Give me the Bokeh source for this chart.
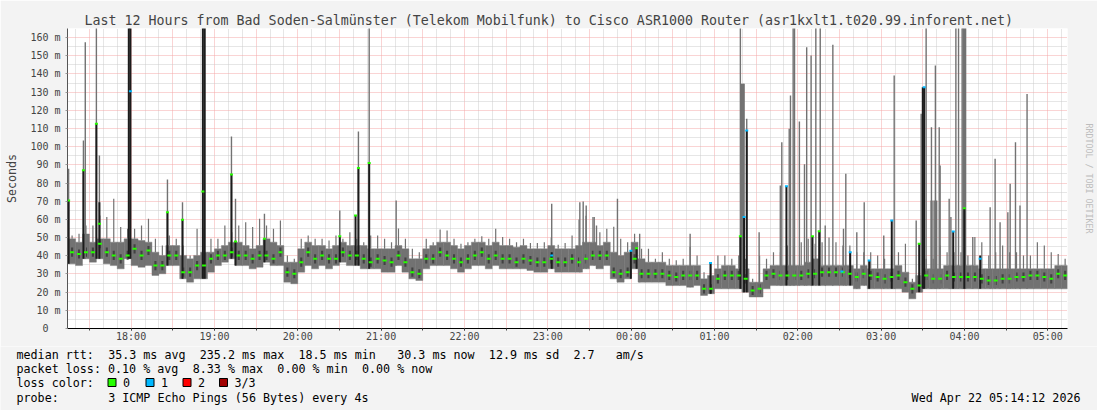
import re
import numpy as np
import pandas as pd
from bokeh.plotting import figure
from bokeh.models import Range1d, FixedTicker, DatetimeTickFormatter, LinearAxis, Plot
from bokeh.layouts import column
from bokeh.embed import file_html
from bokeh.resources import INLINE
from bokeh.core.properties import value

# ---------------- data ----------------
START = "2026-04-21 17:14:12"
END = "2026-04-22 05:14:12"
BIN_START = "2026-04-21 17:15:00"   # 5-minute consolidation bins

band_lo = [35.6, 34.6, 38.3, 36.5, 38.3, 35.6, 34.6, 32.8, 38.3, 34.6, 33.7, 34.6,
           29.2, 30.1, 34.6, 34.6, 27.3, 25.5, 27.3, 27.3, 31.0, 34.6, 36.5, 38.3,
           34.6, 34.6, 32.8, 33.7, 36.5, 34.6, 34.6, 25.5, 24.6, 31.0, 34.6, 32.8,
           34.6, 32.8, 34.6, 36.5, 34.6, 34.6, 32.8, 32.8, 32.8, 31.0, 31.0, 34.6,
           31.0, 27.3, 26.4, 32.8, 34.6, 34.6, 34.6, 32.8, 31.0, 32.8, 34.6, 34.6,
           32.8, 34.6, 32.8, 32.8, 32.8, 32.8, 31.9, 31.0, 31.0, 32.8, 31.0, 31.0,
           31.0, 31.0, 32.8, 34.6, 32.8, 34.6, 27.3, 25.5, 27.3, 32.8, 25.5, 25.5,
           25.5, 25.5, 23.6, 23.6, 23.6, 22.7, 23.6, 18.2, 19.1, 21.8, 21.8, 21.8,
           21.8, 20.0, 17.3, 17.3, 21.8, 23.6, 23.6, 23.6, 23.6, 23.6, 23.6, 23.6,
           23.6, 23.6, 23.6, 23.6, 23.6, 21.8, 23.6, 21.8, 21.8, 21.8, 21.8, 21.8,
           20.0, 16.3, 20.0, 21.8, 21.8, 21.8, 21.8, 21.8, 21.8, 21.8, 21.8, 21.8,
           21.8, 21.8, 21.8, 21.8, 21.8, 21.8, 21.8, 21.8, 21.8, 21.8, 21.8, 21.8]

band_hi = [49.3, 47.5, 52.0, 47.5, 49.3, 49.3, 47.5, 47.5, 49.3, 49.3, 48.4, 47.5,
           42.0, 40.2, 45.6, 45.6, 40.2, 38.3, 40.2, 42.0, 42.0, 43.8, 45.6, 47.5,
           47.5, 45.6, 43.8, 45.6, 49.3, 47.5, 45.6, 36.5, 36.5, 43.8, 47.5, 45.6,
           45.6, 43.8, 45.6, 47.5, 45.6, 45.6, 45.6, 43.8, 43.8, 43.8, 43.8, 45.6,
           43.8, 38.3, 38.3, 43.8, 45.6, 47.5, 47.5, 45.6, 43.8, 45.6, 47.5, 47.5,
           45.6, 47.5, 45.6, 45.6, 44.7, 45.6, 43.8, 43.8, 43.8, 45.6, 43.8, 43.8,
           43.8, 45.6, 47.5, 47.5, 45.6, 47.5, 42.0, 40.2, 42.0, 47.5, 38.3, 36.5,
           36.5, 36.5, 34.6, 34.6, 34.6, 34.6, 34.6, 27.3, 29.2, 32.8, 34.6, 34.6,
           32.8, 32.8, 25.5, 25.5, 32.8, 34.6, 34.6, 34.6, 34.6, 34.6, 36.5, 38.3,
           34.6, 34.6, 34.6, 34.6, 34.6, 32.8, 34.6, 32.8, 32.8, 32.8, 32.8, 34.6,
           31.0, 25.5, 29.2, 32.8, 32.8, 32.8, 34.6, 34.6, 34.6, 34.6, 34.6, 32.8,
           32.8, 32.8, 32.8, 32.8, 32.8, 32.8, 32.8, 32.8, 32.8, 32.8, 34.6, 34.6]

median = [42.0, 41.0, 42.0, 42.0, 46.6, 42.0, 40.2, 38.3, 40.2, 43.8, 40.2, 42.9,
          34.6, 34.6, 40.2, 40.2, 31.0, 31.0, 34.6, 34.6, 38.3, 40.2, 40.2, 42.0,
          40.2, 40.2, 38.3, 40.2, 40.2, 38.3, 42.0, 31.0, 30.1, 36.5, 42.0, 38.3,
          40.2, 38.3, 38.3, 42.0, 40.2, 40.2, 38.3, 36.5, 38.3, 37.4, 36.5, 40.2,
          36.5, 31.0, 30.1, 38.3, 38.3, 42.0, 40.2, 38.3, 36.5, 38.3, 40.2, 42.0,
          38.3, 40.2, 38.3, 38.3, 36.5, 38.3, 37.4, 36.5, 36.5, 38.3, 36.5, 36.5,
          38.3, 36.5, 38.3, 40.2, 40.2, 40.2, 31.0, 30.1, 31.0, 38.3, 30.1, 30.1,
          30.1, 30.1, 29.2, 28.3, 29.2, 29.2, 29.2, 21.8, 21.8, 27.3, 29.2, 29.2,
          29.2, 27.3, 20.9, 21.8, 29.2, 30.1, 29.2, 29.2, 29.2, 29.2, 30.1, 30.1,
          31.0, 31.0, 31.0, 31.0, 30.1, 28.3, 30.1, 29.2, 28.3, 27.3, 28.3, 29.2,
          25.5, 21.8, 23.6, 29.2, 27.3, 27.3, 29.2, 28.3, 28.3, 28.3, 28.3, 27.3,
          26.4, 26.4, 27.3, 27.3, 28.3, 28.3, 29.2, 29.2, 28.3, 27.3, 30.1, 29.2]

peak = [51.2, 52.1, 56.7, 56.7, 62.2, 61.3, 71.3, 55.8, 54.8, 54.8, 56.7, 60.3,
        49.3, 45.6, 51.2, 49.3, 45.6, 40.2, 54.8, 54.8, 49.3, 49.3, 56.7, 53.0,
        56.7, 58.5, 55.8, 60.3, 56.7, 54.8, 59.4, 40.2, 38.3, 49.3, 51.2, 49.3,
        49.3, 48.4, 51.2, 49.3, 53.0, 49.3, 47.5, 51.2, 51.2, 49.3, 47.5, 55.0,
        49.3, 43.8, 42.0, 49.3, 47.5, 54.5, 53.9, 49.3, 46.6, 47.5, 49.3, 50.8,
        49.3, 54.8, 50.3, 49.3, 47.5, 49.3, 47.0, 47.0, 47.5, 50.0, 46.0, 47.0,
        51.2, 60.0, 62.0, 61.3, 53.0, 54.8, 56.0, 49.3, 47.5, 52.1, 43.8, 43.8,
        38.3, 42.0, 38.3, 37.5, 38.3, 45.0, 40.2, 31.0, 36.5, 40.2, 40.2, 38.3,
        40.2, 38.3, 27.3, 40.0, 38.3, 42.0, 42.0, 45.6, 45.6, 47.5, 49.3, 46.6,
        47.5, 50.0, 47.5, 45.6, 45.6, 42.0, 42.0, 42.0, 40.2, 38.3, 40.2, 42.0,
        46.6, 27.3, 31.0, 38.3, 38.3, 45.6, 42.0, 42.0, 42.0, 40.2, 50.3, 47.5,
        40.2, 42.0, 45.6, 42.0, 42.0, 40.2, 40.2, 47.5, 45.6, 42.0, 41.0, 38.3]

NA = float("nan")
# individual spikes: time, light smoke top, dark smoke top, median, lost pings
spike_time = ["17:15:00", "17:25:40", "17:27:00", "17:35:00", "17:37:10", "17:58:20", "17:59:30",
              "18:26:10", "18:37:00", "18:51:40", "18:53:00", "19:12:15", "19:15:10", "19:36:00",
              "20:30:15", "20:41:35", "20:43:40", "20:51:25", "21:10:50", "23:02:50",
              "23:23:05", "23:25:30", "23:27:40", "23:33:25", "23:35:05", "23:50:10",
              "23:59:50", "00:03:55", "00:06:10", "00:42:30", "00:57:10",
              "01:18:40", "01:19:25", "01:20:10", "01:20:55", "01:21:20", "01:23:15",
              "01:32:10", "01:47:25", "01:48:30", "01:51:50", "01:53:50", "01:54:45",
              "01:56:40", "01:57:40", "02:01:10", "02:04:50", "02:06:25", "02:09:35",
              "02:10:35", "02:13:00", "02:15:25", "02:16:10", "02:19:45", "02:25:15",
              "02:31:45", "02:32:55", "02:34:35", "02:37:45", "02:42:30", "02:47:50",
              "02:51:25", "03:01:55", "03:07:40", "03:09:25", "03:25:15", "03:27:25",
              "03:28:50", "03:30:00", "03:31:00", "03:32:25", "03:36:00", "03:37:20",
              "03:38:40", "03:40:00", "03:36:15", "03:39:05", "03:41:50", "03:42:30",
              "03:49:00", "03:50:15", "03:51:55", "03:53:50", "03:55:45", "03:58:20",
              "03:59:10", "04:00:00", "04:00:50", "03:59:55", "04:06:00", "04:11:20",
              "04:18:30", "04:22:05", "04:25:40", "04:31:15", "04:32:55", "04:36:45",
              "04:40:00", "04:45:05"]
spike_top = [87.9, 103.4, 157.5, 170, 95.2, NA, NA,
             82.0, 69.5, NA, NA, 105.6, 71.3, 63.1,
             64.9, NA, 108.4, 170, 70.4, 68.6,
             69.5, 69.9, 67.6, 61.3, 56.7, 71.3,
             NA, NA, 52.1, 52.1, NA,
             170, 134.6, 134.6, 134.6, 134.6, 115.3,
             53.0, 78.7, 102.5, NA, 109.8, 128.1,
             170, 170, 113.9, 90.4, 154.7, 150.2,
             NA, 170, NA, 170, 56.7, 156.0,
             NA, 54.8, 85.1, NA, 53.0, 69.5,
             NA, 51.2, NA, 139.2, 59.4, NA,
             118.1, NA, NA, 170, 70.4, 70.4,
             70.4, 70.4, 110.7, 144.7, 110.7, 89.7,
             71.3, 61.3, NA, 170, 170, 170,
             170, 170, 170, NA, 50.3, NA,
             66.7, 93.3, 58.5, 64.0, 79.6, 102.5,
             67.6, 129.0]
spike_dark = [70.4, 87.0, NA, 112.6, 69.5, 170, 170,
              64.0, 59.8, 170, 170, 84.7, 47.9, 49.3,
              50.8, 62.2, 88.3, 91.0, NA, 42.0,
              NA, NA, NA, NA, NA, NA,
              42.7, 44.2, NA, NA, 36.5,
              50.8, NA, NA, NA, 61.3, 108.9,
              NA, NA, NA, 78.3, NA, NA,
              NA, NA, NA, NA, NA, NA,
              50.8, NA, 53.5, NA, NA, NA,
              NA, NA, NA, 42.0, NA, NA,
              37.4, NA, 59.4, NA, NA, 46.6,
              NA, 132.7, 132.7, NA, NA, NA,
              NA, NA, NA, NA, NA, NA,
              NA, NA, 53.4, NA, NA, NA,
              NA, NA, NA, 66.2, NA, 40.2,
              NA, NA, NA, NA, NA, NA,
              NA, NA]
spike_med = [70.4, 87.0, NA, 112.6, 57.6, NA, 130.5,
             64.0, 59.8, 75.4, NA, 84.7, 47.9, 49.3,
             50.8, 62.2, 88.3, 91.0, NA, 40.2,
             NA, NA, NA, NA, NA, NA,
             42.7, 44.2, NA, NA, 36.0,
             50.8, NA, NA, NA, 61.3, 108.9,
             NA, NA, NA, 78.3, NA, NA,
             NA, NA, NA, NA, NA, NA,
             50.8, NA, 53.5, NA, NA, NA,
             31.4, NA, NA, 42.0, NA, NA,
             37.4, NA, 59.4, NA, NA, 46.6,
             NA, NA, 132.7, NA, NA, NA,
             NA, NA, NA, NA, NA, NA,
             NA, NA, 53.4, NA, NA, NA,
             NA, NA, NA, 66.2, NA, 38.3,
             NA, NA, NA, NA, NA, NA,
             NA, NA]
spike_loss = [0, 0, 0, 0, 0, 0, 1,
              0, 0, 0, 0, 0, 0, 0,
              0, 0, 0, 0, 0, 1,
              0, 0, 0, 0, 0, 0,
              1, 0, 0, 0, 1,
              0, 0, 0, 0, 1, 1,
              0, 0, 0, 1, 0, 0,
              0, 0, 0, 0, 0, 0,
              0, 0, 0, 0, 0, 0,
              1, 0, 0, 1, 0, 0,
              1, 0, 1, 0, 0, 0,
              0, 0, 1, 0, 0, 0,
              0, 0, 0, 0, 0, 0,
              0, 0, 1, 0, 0, 0,
              0, 0, 0, 0, 0, 1,
              0, 0, 0, 0, 0, 0,
              0, 0]

loss_labels = ["0", "1", "2", "3/3"]
loss_colors = ["#26ff00", "#00b8ff", "#ff0000", "#a10000"]

TITLE = "Last 12 Hours from Bad Soden-Salmünster (Telekom Mobilfunk) to Cisco ASR1000 Router (asr1kxlt1.t020.99.inforent.net)"
legend_lines = [
    "median rtt:  35.3 ms avg  235.2 ms max  18.5 ms min   30.3 ms now  12.9 ms sd  2.7   am/s",
    "packet loss: 0.10 % avg  8.33 % max  0.00 % min  0.00 % now",
    "loss color:",
    "probe:       3 ICMP Echo Pings (56 Bytes) every 4s",
]
STAMP = "Wed Apr 22 05:14:12 2026"

# ---------------- styling / layout ----------------
W = 1097
H_TOP, H_LEG = 346, 64
FL, FR, FT, FB = 67, 1067, 28, 328          # frame edges on the canvas
BG = "#f3f3f3"
SMOKE = "#727272"
DARK = "#1c1c1c"
MGRID = "#f4a9a9"
GRID = "#cdcdcd"
MONO = "DejaVu Sans Mono"
YMAX = 165

EPOCH = pd.Timestamp("1970-01-01")
def ms(ts):
    return (ts - EPOCH) / pd.Timedelta(milliseconds=1)

def clock(s):
    day = "2026-04-21" if int(s[:2]) >= 17 else "2026-04-22"
    return pd.Timestamp(f"{day} {s}")

t0, t1 = pd.Timestamp(START), pd.Timestamp(END)
X0, X1 = ms(t0), ms(t1)

BIN = pd.Timedelta(minutes=5)
bin0 = pd.Timestamp(BIN_START)
centers = pd.date_range(bin0, periods=len(band_lo), freq="5min") + BIN / 2

p = figure(width=W, height=H_TOP, x_axis_type="datetime",
           x_range=Range1d(X0, X1), y_range=Range1d(0, YMAX),
           output_backend="svg", toolbar_location=None,
           min_border_left=FL, min_border_right=W - FR, min_border_top=FT,
           min_border_bottom=H_TOP - FB,
           background_fill_color="white", border_fill_color=BG, outline_line_color=None,
           title=TITLE)
p.title.text_font = MONO
p.title.text_font_size = "13.3px"
p.title.text_font_style = "normal"
p.title.align = "left"
p.title.offset = 17
p.title.standoff = 1

# ticks & grid
hours = pd.date_range("2026-04-21 18:00", "2026-04-22 05:00", freq="1h")
halfs = pd.date_range("2026-04-21 17:30", "2026-04-22 05:00", freq="30min")
tens = [t for t in pd.date_range("2026-04-21 17:20", "2026-04-22 05:10", freq="10min") if t.minute % 30]

p.xaxis.ticker = FixedTicker(ticks=[ms(t) for t in hours], minor_ticks=[ms(t) for t in halfs])
fmt = "%H:%M"
p.xaxis.formatter = DatetimeTickFormatter(minutes=fmt, hourmin=fmt, hours=fmt, days=fmt, minsec=fmt, seconds=fmt)
p.xaxis.major_label_text_font = MONO
p.xaxis.major_label_text_font_size = "10px"
p.xaxis.major_label_standoff = 0
p.xaxis.axis_line_color = "black"
p.xaxis.major_tick_in = 0
p.xaxis.major_tick_out = 2
p.xaxis.minor_tick_in = 0
p.xaxis.minor_tick_out = 2
p.xaxis.major_tick_line_color = "#444"
p.xaxis.minor_tick_line_color = "#444"

yt = list(range(0, 161, 10))
p.yaxis.ticker = FixedTicker(ticks=yt, minor_ticks=list(range(5, 166, 10)))
p.yaxis.major_label_overrides = {v: (f"{v} m" if v else "0\u00a0\u00a0") for v in yt}
p.yaxis.major_label_text_font = MONO
p.yaxis.major_label_text_font_size = "10px"
p.yaxis.major_label_standoff = 5
p.yaxis.major_tick_in = 0
p.yaxis.major_tick_out = 2
p.yaxis.minor_tick_out = 0
p.yaxis.minor_tick_in = 0
p.yaxis.axis_line_color = "#555"
p.yaxis.major_tick_line_color = "#999"
p.yaxis.axis_label = "Seconds"
p.yaxis.axis_label_text_font = MONO
p.yaxis.axis_label_text_font_size = "11.7px"
p.yaxis.axis_label_text_font_style = "normal"
p.yaxis.axis_label_standoff = 8

p.xgrid.ticker = FixedTicker(ticks=[ms(t) for t in halfs], minor_ticks=[ms(t) for t in tens])
for g in (p.xgrid, p.ygrid):
    g.grid_line_color = MGRID
    g.grid_line_dash = "1 1"
    g.minor_grid_line_color = GRID
    g.minor_grid_line_dash = "1 1"

# right-hand rotated credit
p.extra_y_ranges = {"credit": Range1d(0, YMAX)}
cr = LinearAxis(y_range_name="credit", ticker=FixedTicker(ticks=[]), bounds=(130, YMAX),
                axis_line_color=None, major_tick_out=0, major_tick_in=0, minor_tick_out=0,
                major_label_standoff=0, axis_label="RRDTOOL / TOBI OETIKER",
                axis_label_text_font=MONO, axis_label_text_font_size="8.3px",
                axis_label_text_font_style="normal", axis_label_text_color="#bdbdbd",
                axis_label_standoff=16)
p.add_layout(cr, "right")

# smoke bands
p.vbar(x=centers, width=BIN / pd.Timedelta(milliseconds=1), bottom=band_lo, top=band_hi,
       fill_color=SMOKE, line_color=SMOKE, line_width=0.4)
p.segment(x0=centers, y0=band_hi, x1=centers, y1=peak, line_color=SMOKE, line_width=1.2)
# darker smoke core around the median
p.vbar(x=centers, width=BIN / pd.Timedelta(milliseconds=1) * 0.3,
       bottom=[v - 2.5 for v in median], top=[v + 2.5 for v in median],
       fill_color=DARK, fill_alpha=0.55, line_color=None)

# spikes
st = [clock(s) for s in spike_time]
idx = [min(max(int((t - bin0) / BIN), 0), len(band_lo) - 1) for t in st]
base = [band_lo[i] for i in idx]
top = np.array(spike_top, dtype=float)
dark = np.array(spike_dark, dtype=float)
med = np.array(spike_med, dtype=float)
g = ~np.isnan(top)
p.segment(x0=[t for t, k in zip(st, g) if k], y0=[b for b, k in zip(base, g) if k],
          x1=[t for t, k in zip(st, g) if k], y1=top[g], line_color=SMOKE, line_width=1.4)
d = ~np.isnan(dark)
p.segment(x0=[t for t, k in zip(st, d) if k], y0=[b for b, k in zip(base, d) if k],
          x1=[t for t, k in zip(st, d) if k], y1=dark[d], line_color=DARK, line_width=2)

# medians
p.rect(x=centers, y=median, width=4, height=2, width_units="screen", height_units="screen",
       fill_color=loss_colors[0], line_color=None)
m = ~np.isnan(med)
p.rect(x=[t for t, k in zip(st, m) if k], y=med[m], width=3, height=2,
       width_units="screen", height_units="screen",
       fill_color=[loss_colors[l] for l, k in zip(spike_loss, m) if k], line_color=None)

# ---------------- legend panel ----------------
q = figure(width=W, height=H_LEG, x_range=Range1d(0, W), y_range=Range1d(H_LEG, 0),
           x_axis_location=None, y_axis_location=None, output_backend="svg",
           toolbar_location=None, min_border=0, background_fill_color=BG,
           border_fill_color=BG, outline_line_color=None)
q.grid.visible = False
if "frame_align" in Plot.properties():
    p.frame_align = False
    q.frame_align = False

LEFT, CW = 16, 7.05
LINE_Y = [y - H_TOP for y in (354, 368, 382, 397)]
xs, ys, ts = [], [], []
for line, y in zip(legend_lines, LINE_Y):
    for mt in re.finditer(r"\S+(?: \S+)*", line):
        xs.append(LEFT + mt.start() * CW)
        ys.append(y)
        ts.append(mt.group())
BOX_X = [111.5, 149.5, 186.5, 223.0]
for bx, lab in zip(BOX_X, loss_labels):
    xs.append(bx + 11)
    ys.append(LINE_Y[2])
    ts.append(lab)
q.text(x=xs, y=ys, text=ts, text_font=value(MONO), text_font_size=value("11.7px"),
       text_baseline="middle", text_align="left", text_color="black")
q.rect(x=BOX_X, y=[LINE_Y[2]] * 4, width=8, height=8, fill_color=loss_colors,
       line_color="black", line_width=1)
q.text(x=[1080], y=[LINE_Y[3]], text=[STAMP], text_font=value(MONO),
       text_font_size=value("11.7px"), text_baseline="middle", text_align="right",
       text_color="black")

layout = column(p, q, spacing=0)
open("out.html", "w").write(file_html(layout, INLINE))
